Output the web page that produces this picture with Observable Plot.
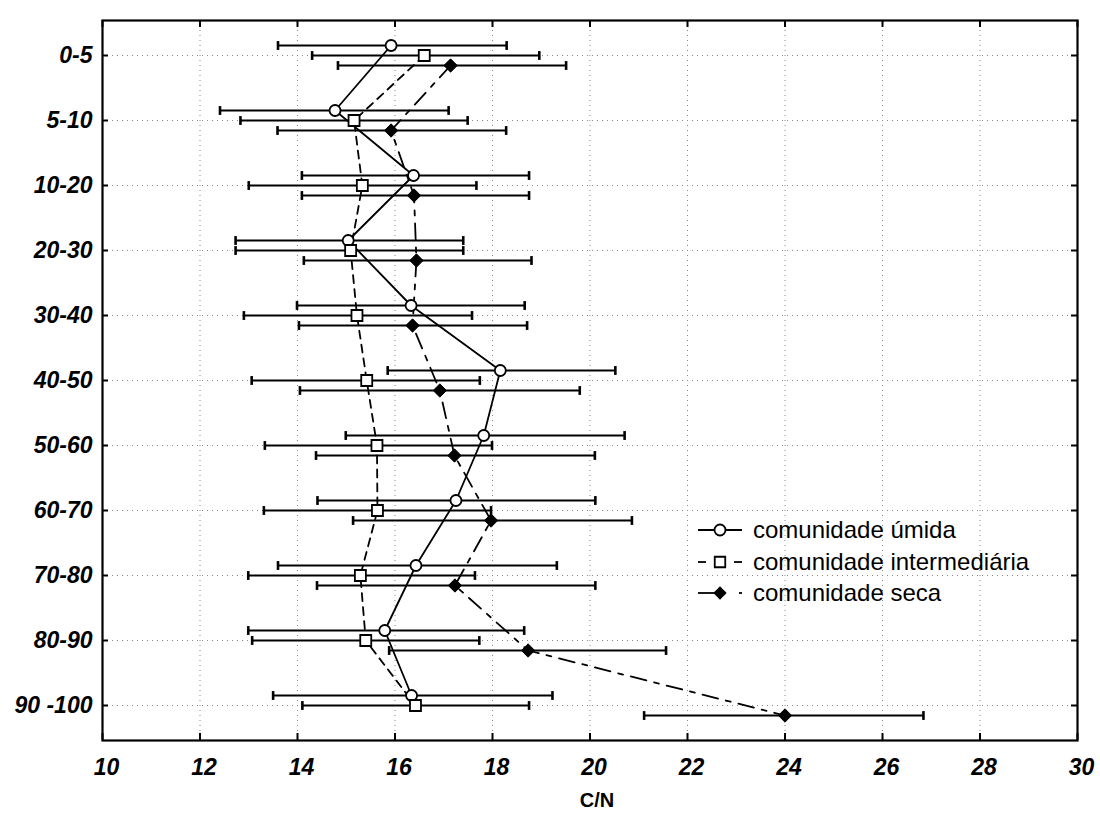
<!DOCTYPE html>
<html>
<head>
<meta charset="utf-8">
<script src="https://cdn.jsdelivr.net/npm/d3@7"></script>
<script src="https://cdn.jsdelivr.net/npm/@observablehq/plot@0.6"></script>
<style>
  body { margin: 0; background: #fff; }
  #chart { position: absolute; left: 0; top: 0; }
</style>
</head>
<body>
<div id="chart"></div>
<script>
// ---- data ----
const depths = ["0-5", "5-10", "10-20", "20-30", "30-40", "40-50", "50-60", "60-70", "70-80", "80-90", "90 -100"];
const xTicks = [10, 12, 14, 16, 18, 20, 22, 24, 26, 28, 30];
const seriesNames = ["comunidade úmida", "comunidade intermediária", "comunidade seca"];

const umidaMean = [15.92, 14.77, 16.38, 15.04, 16.33, 18.16, 17.82, 17.25, 16.43, 15.79, 16.34];
const umidaLow  = [13.60, 12.41, 14.09, 12.73, 13.99, 15.85, 14.99, 14.41, 13.60, 12.99, 13.50];
const umidaHigh = [18.29, 17.10, 18.75, 17.40, 18.66, 20.52, 20.71, 20.11, 19.32, 18.65, 19.23];

const interMean = [16.60, 15.16, 15.33, 15.09, 15.22, 15.42, 15.63, 15.64, 15.29, 15.40, 16.42];
const interLow  = [14.30, 12.83, 13.00, 12.73, 12.90, 13.06, 13.33, 13.31, 12.99, 13.07, 14.10];
const interHigh = [18.96, 17.49, 17.67, 17.40, 17.58, 17.74, 17.99, 17.97, 17.64, 17.73, 18.75];

const secaMean = [17.14, 15.92, 16.39, 16.44, 16.36, 16.92, 17.22, 17.97, 17.23, 18.73, 24.00];
const secaLow  = [14.83, 13.59, 14.09, 14.13, 14.03, 14.05, 14.38, 15.14, 14.40, 15.88, 21.11];
const secaHigh = [19.51, 18.28, 18.75, 18.80, 18.71, 19.79, 20.10, 20.86, 20.11, 21.56, 26.84];

// ---- build tables ----
function rows(mean, low, high, name) {
  return depths.map((d, i) => ({depth: d, mean: mean[i], low: low[i], high: high[i], series: name}));
}
const umida = rows(umidaMean, umidaLow, umidaHigh, seriesNames[0]);
const inter = rows(interMean, interLow, interHigh, seriesNames[1]);
const seca  = rows(secaMean, secaLow, secaHigh, seriesNames[2]);

const capSymbol = {draw(ctx, size) { const h = Math.sqrt(size) / 2; ctx.moveTo(0, -h); ctx.lineTo(0, h); }};
const FONT = "'Liberation Sans', Arial, Helvetica, sans-serif";

function seriesMarks(data, dy) {
  return [
    Plot.ruleY(data, {y: "depth", x1: "low", x2: "high", dy, stroke: "#000", strokeWidth: 2.2}),
    Plot.dot(data, {x: "low", y: "depth", dy, symbol: capSymbol, r: 5, stroke: "#000", strokeWidth: 2.6, fill: "none"}),
    Plot.dot(data, {x: "high", y: "depth", dy, symbol: capSymbol, r: 5, stroke: "#000", strokeWidth: 2.6, fill: "none"})
  ];
}

const W = 1100, H = 820;
const mL = 102, mR = 23, mT = 20, mB = 80;
const frameH = H - mT - mB;

const plot = Plot.plot({
  width: W,
  height: H,
  marginLeft: mL,
  marginRight: mR,
  marginTop: mT,
  marginBottom: mB,
  style: {fontFamily: FONT, background: "#fff", color: "#000"},
  x: {domain: [10, 30], label: null},
  y: {type: "point", domain: depths, padding: 0.5, label: null},
  marks: [
    Plot.gridX(xTicks, {stroke: "#888", strokeOpacity: 1, strokeWidth: 1, strokeDasharray: "1,4"}),
    Plot.gridY(depths, {stroke: "#888", strokeOpacity: 1, strokeWidth: 1, strokeDasharray: "1,4"}),
    // inward ticks on all four sides
    Plot.ruleX(xTicks, {x: d => d, insetTop: frameH - 7, stroke: "#000", strokeWidth: 2}),
    Plot.ruleX(xTicks, {x: d => d, insetBottom: frameH - 7, stroke: "#000", strokeWidth: 2}),
    Plot.ruleY(depths, {y: d => d, insetRight: (W - mL - mR) - 6, stroke: "#000", strokeWidth: 2}),
    Plot.ruleY(depths, {y: d => d, insetLeft: (W - mL - mR) - 6, stroke: "#000", strokeWidth: 2}),
    // connecting lines
    Plot.line(umida, {x: "mean", y: "depth", dy: -10, stroke: "#000", strokeWidth: 1.8}),
    Plot.line(inter, {x: "mean", y: "depth", dy: 0, stroke: "#000", strokeWidth: 1.8, strokeDasharray: "8,6"}),
    Plot.line(seca, {x: "mean", y: "depth", dy: 10, stroke: "#000", strokeWidth: 1.8, strokeDasharray: "16,8,5,8"}),
    // error bars
    ...seriesMarks(umida, -10),
    ...seriesMarks(inter, 0),
    ...seriesMarks(seca, 10),
    // markers
    Plot.dot(umida, {x: "mean", y: "depth", dy: -10, symbol: "circle", r: 5.5, fill: "#fff", stroke: "#000", strokeWidth: 1.8}),
    Plot.dot(inter, {x: "mean", y: "depth", dy: 0, symbol: "square", r: 6.2, fill: "#fff", stroke: "#000", strokeWidth: 1.8}),
    Plot.dot(seca, {x: "mean", y: "depth", dy: 10, symbol: "diamond2", r: 6, fill: "#000", stroke: "#000", strokeWidth: 1}),
    Plot.frame({stroke: "#000", strokeWidth: 2.2}),
    // axes
    Plot.axisX({ticks: xTicks, tickSize: 0, tickPadding: 18, fontSize: 23, fontWeight: "bold", fontStyle: "italic", dx: 4, label: null}),
    Plot.axisY({tickSize: 0, tickPadding: 10, fontSize: 23, fontWeight: "bold", fontStyle: "italic", label: null}),
    Plot.text(["C/N"], {frameAnchor: "bottom", dy: 66, dx: 7, text: d => d, fontSize: 20, fontWeight: "bold", fill: "#000"})
  ]
});

document.getElementById("chart").appendChild(plot);

// ---- legend inside the plot area ----
const svg = d3.select(plot);
const lg = svg.append("g")
  .attr("font-family", FONT)
  .attr("font-size", 24)
  .attr("text-anchor", "start")
  .attr("fill", "#000");
const rowsY = [530, 562, 593];
const lx0 = 698, lxm = 720, lx1 = 742, tx = 753;
// úmida
lg.append("line").attr("x1", lx0).attr("x2", lx1).attr("y1", rowsY[0]).attr("y2", rowsY[0]).attr("stroke", "#000").attr("stroke-width", 1.8);
lg.append("path").attr("d", d3.symbol(d3.symbolCircle, Math.PI * 5.5 * 5.5)()).attr("transform", `translate(${lxm},${rowsY[0]})`).attr("fill", "#fff").attr("stroke", "#000").attr("stroke-width", 1.8);
// intermediária
lg.append("line").attr("x1", lx0).attr("x2", lx0 + 8).attr("y1", rowsY[1]).attr("y2", rowsY[1]).attr("stroke", "#000").attr("stroke-width", 1.8);
lg.append("line").attr("x1", lx1 - 8).attr("x2", lx1).attr("y1", rowsY[1]).attr("y2", rowsY[1]).attr("stroke", "#000").attr("stroke-width", 1.8);
lg.append("path").attr("d", d3.symbol(d3.symbolSquare, 10.5 * 10.5)()).attr("transform", `translate(${lxm},${rowsY[1]})`).attr("fill", "#fff").attr("stroke", "#000").attr("stroke-width", 1.8);
// seca
lg.append("line").attr("x1", lx0).attr("x2", lxm).attr("y1", rowsY[2]).attr("y2", rowsY[2]).attr("stroke", "#000").attr("stroke-width", 1.8);
lg.append("line").attr("x1", lx1 - 3).attr("x2", lx1).attr("y1", rowsY[2]).attr("y2", rowsY[2]).attr("stroke", "#000").attr("stroke-width", 1.8);
lg.append("path").attr("d", d3.symbol(d3.symbolDiamond2, Math.PI * 6 * 6)()).attr("transform", `translate(${lxm},${rowsY[2]})`).attr("fill", "#000");
seriesNames.forEach((name, i) => {
  lg.append("text").attr("x", tx).attr("y", rowsY[i]).attr("dy", "0.35em").attr("text-anchor", "start").text(name);
});
</script>
</body>
</html>
